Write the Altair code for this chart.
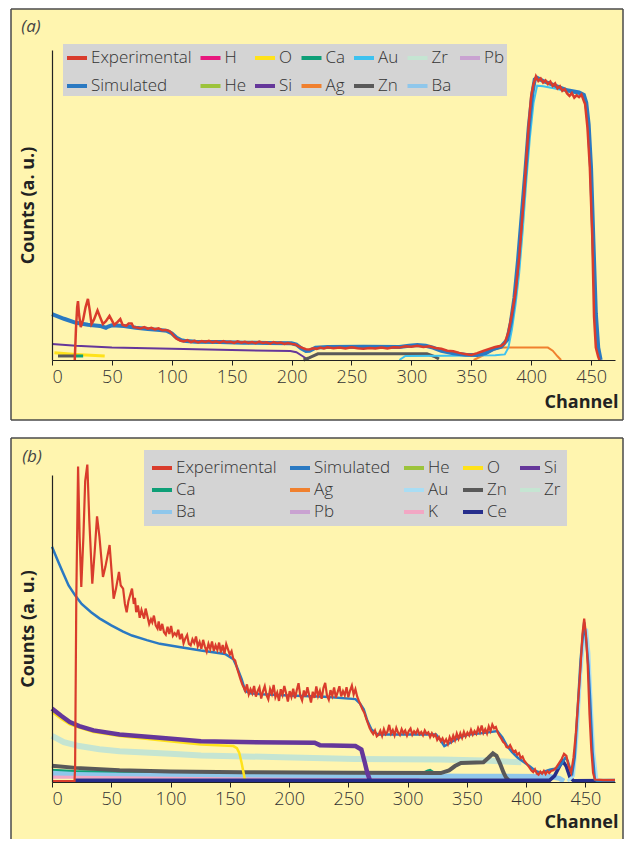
import altair as alt
import pandas as pd

# ---------------- panel (a) data ----------------
A_EXP_CH = [19, 20, 21, 21.7, 22.5, 24, 26, 28, 30, 31.5, 33, 35, 38, 40, 42.5, 45, 48, 50, 52, 54, 57, 59, 62, 64,
            66.5, 68, 71, 74, 77, 80, 83, 86, 89, 92, 95, 98, 100, 102, 104, 107, 110, 113, 116, 119, 122, 125, 128,
            131, 134, 137, 140, 143, 146, 149, 152, 155, 158, 161, 164, 167, 170, 173, 176, 179, 182, 185, 188, 191,
            194, 197, 200, 203, 206, 209, 212, 215, 218, 221, 224, 227, 230, 235, 240, 245, 250, 255, 260, 265, 270,
            275, 280, 285, 290, 295, 300, 305, 310, 315, 320, 325, 330, 335, 340, 345, 350, 355, 360, 365, 370, 375,
            378, 381, 384, 387, 390, 392, 394, 396, 398, 400, 402, 404, 406, 408, 410, 412, 414, 416, 418, 420, 422,
            424, 426, 428, 430, 432, 434, 436, 438, 440, 442, 444, 445, 447, 449, 451, 452.5, 454, 456, 457]
A_EXP_Y = [0, 10, 17, 19, 15, 10.6, 13, 17, 19.7, 16, 11.6, 13, 16, 14, 11.6, 12.5, 14.2, 12.8, 11.3, 12, 13.2, 11.3,
           11, 11.8, 11.8, 10.6, 10.5, 10.2, 10.6, 10.1, 10.4, 9.9, 10.2, 9.6, 9.7, 9.3, 8.6, 7.6, 6.9, 6.3, 6.0, 6.4,
           5.8, 6.2, 5.7, 6.1, 5.8, 6.2, 5.7, 6.0, 5.6, 6.1, 5.7, 5.9, 5.5, 6.0, 5.6, 5.9, 5.5, 5.8, 5.4, 5.9, 5.5,
           5.7, 5.3, 5.8, 5.4, 5.6, 5.2, 5.5, 5.2, 5.0, 4.4, 3.9, 3.5, 3.4, 3.8, 3.6, 4.0, 3.7, 4.1, 3.8, 4.0, 3.7,
           4.1, 3.8, 3.6, 3.9, 3.7, 4.0, 3.7, 4.1, 4.0, 4.4, 4.3, 4.6, 4.2, 4.4, 3.9, 3.6, 3.0, 2.8, 2.3, 1.9, 1.6,
           2.2, 2.9, 3.6, 4.2, 4.6, 5.5, 9, 15, 22, 33, 43, 53, 65, 76, 85, 89, 91.5, 90, 90.8, 89.5, 90.2, 89, 89.8,
           88.4, 89.2, 87.6, 88.3, 86.8, 87.4, 86, 85.2, 86.1, 84.6, 85.4, 84.8, 85.6, 83.5, 82.6, 75, 62, 40, 14, 4,
           1, 0]
A_SIM_CH = [0, 10, 20, 30, 40, 45, 47, 50, 60, 70, 80, 90, 96, 100, 104, 108, 112, 120, 140, 160, 180, 200, 204, 208,
            212, 215, 220, 230, 260, 290, 298, 305, 312, 318, 325, 335, 345, 355, 362, 368, 375, 380, 383, 386, 389,
            392, 395, 398, 401, 403, 405, 410, 420, 430, 440, 444, 446, 448, 450, 452, 454, 456, 458]
A_SIM_Y = [14.8, 13.3, 12, 11.4, 11, 10.4, 10.8, 11.2, 11, 10.4, 10, 9.7, 9.4, 8.6, 7.2, 6.4, 6.1, 5.9, 5.8, 5.6, 5.5,
           5.4, 5.0, 3.8, 2.9, 3.0, 4.0, 4.2, 4.3, 4.2, 4.6, 4.8, 4.6, 4.0, 3.0, 2.2, 1.7, 1.6, 2.2, 3.5, 4.3, 6.5,
           12, 20, 32, 46, 60, 75, 86, 90.5, 91, 90, 88.5, 87, 86.3, 85.5, 83, 76, 62, 38, 15, 4, 0]
A_SI_CH = [0, 20, 50, 100, 150, 199, 204, 209, 214]
A_SI_Y = [5.2, 4.6, 4.0, 3.6, 3.2, 2.9, 2.5, 1.3, 0]
A_O_CH = [2, 20, 44]
A_O_Y = [2.3, 1.8, 1.3]
A_ZN1_CH = [5, 19]
A_ZN1_Y = [1.3, 1.3]
A_ZN2_CH = [210, 215, 222, 313, 320, 323]
A_ZN2_Y = [0, 0.8, 2.0, 2.0, 1.0, 0.3]
A_CA_CH = [19, 26]
A_CA_Y = [1.3, 1.3]
A_AU_CH = [290, 295, 330, 370, 378, 381, 384, 387, 390, 393, 396, 399, 402, 405, 410, 420, 430, 440, 444, 447, 449,
           451, 453, 455, 457]
A_AU_Y = [0, 1.3, 1.4, 1.5, 1.8, 4, 10, 18, 28, 42, 58, 72, 83, 88.5, 88.3, 87.6, 86.7, 85.8, 85, 80, 68, 45, 20, 5, 0]
A_AG_CH = [352, 360, 368, 375, 414, 418, 422, 425]
A_AG_Y = [0, 1.5, 3.2, 4.0, 4.0, 3.0, 1.2, 0]

A_LEGEND = ["Experimental", "H", "O", "Ca", "Au", "Zr", "Pb",
            "Simulated", "He", "Si", "Ag", "Zn", "Ba"]

# ---------------- panel (b) data ----------------
B_EXP_CH1 = [0, 19, 19.5, 20.5, 22, 23.3, 24.7, 26.5, 28, 29.8, 31.5, 34, 36, 38, 40, 43, 45, 48.6, 50, 52, 54,
             56.5, 58]
B_EXP_Y1 = [0.3, 0.3, 5, 60, 102.8, 80, 63.5, 80, 98, 103.4, 85, 64.6, 75, 86.5, 80, 66.8, 70, 77.2, 70, 59.7, 63,
            68.4, 64]
B_EXP_CH2 = [60, 61.5, 63, 64.5, 66, 67.5, 69, 70, 71, 72.5, 74, 75.5, 77.7, 79, 80.5, 82, 83.5, 84.6, 86, 87.5,
             89, 90, 91.4, 93, 94.5, 96, 97.5, 99, 100.5, 102, 103.5, 105, 106.5, 108, 109.5, 111, 112.5, 114, 115.5,
             117, 118.5, 120, 121.5, 123, 124.5, 126, 127.5, 129, 130.5, 132, 133.5, 135, 136.5, 138, 139.5, 141,
             142.5, 144, 145.5, 147, 148.5, 150, 151.5, 153]
B_EXP_Y2 = [63, 58, 55.3, 59, 61, 63, 58, 60, 55.3, 57.5, 53.5, 56, 53.2, 56.5, 54, 51.5, 53, 52, 54.2, 51,
            50, 52.3, 49.3, 51.5, 48.8, 48, 50.6, 48.2, 50.8, 47.6, 48.5, 47.7, 49.6, 46.5, 48.3, 45.2, 46.8, 47.9, 45,
            44.5, 46.5, 45.3, 47.4, 44.2, 45.6, 43.4, 46.3, 44.1, 42.5, 45, 43.3, 45.8, 42.7, 44.5, 43, 45.4,
            42.2, 44.6, 41.8, 44.9, 43.2, 41.5, 42.6, 40]
B_EXP_CH3 = [154.5, 156, 157.5, 159, 160.5, 162, 163, 164.5, 166, 167.5, 169, 170.5, 172, 173.5, 175, 176.5, 178,
             179.5, 181, 182.5, 184, 185.5, 187, 188.5, 190, 191.5, 193, 194.5, 196, 197.5, 199, 200.5, 202, 203.5,
             205, 206.5, 208, 209.5, 211, 212.5, 214, 215.5, 217, 218.5, 220, 221.5, 223, 224.5, 226, 227.5, 229,
             230.5, 232, 233.5, 235, 236.5, 238, 239.5, 241, 242.5, 244, 245.5, 247, 248.5, 250, 251.5, 253, 254.5,
             256, 257.5]
B_EXP_Y3 = [39.6, 37.2, 35.4, 33.5, 31.8, 30.6, 29.7, 31.8, 28.6, 30.2, 28.9, 31.3, 27.8, 29.6, 30.8, 27.2, 29.5,
            31.2, 28.3, 26.9, 30.3, 28.7, 31.6, 27.6, 29.1, 26.4, 30.2, 28.4, 31.3, 28.9, 26.2, 29.6, 27.7, 30.4,
            27.3, 29.9, 32.2, 28.1, 26.6, 29.8, 27.9, 30.9, 28.3, 25.9, 29.4, 27.4, 31.1, 28, 29.7, 27.1, 30.6,
            32.3, 28.2, 26.8, 29.9, 28.1, 30.8, 27.5, 29.3, 31.2, 27.9, 29.6, 28.2, 30.9, 27.6, 29.8, 31.4, 28.5,
            30.2, 27.8]
B_EXP_CH4 = [259, 260.5, 262, 263.5, 265, 266.5, 268, 269.5, 271, 272.5, 274, 275.5, 277, 278.5, 280, 281.5, 283,
             284.5, 286, 287.5, 289, 290.5, 292, 293.5, 295, 296.5, 298, 299.5, 301, 302.5, 304, 305.5, 307, 308.5,
             310, 311.5, 313, 314.5, 316, 317.5, 319, 320.5, 322, 323.5, 325, 326.5, 328, 329.5, 331, 332.5, 334,
             335.5, 337, 338.5, 340, 341.5, 343, 344.5, 346, 347.5, 349, 350.5, 352, 353.5, 355, 356.5, 358, 359.5,
             361, 362.5, 364, 365.5, 367, 368.5, 370, 371.5, 373, 374.5, 376, 377.5, 379, 380.5, 382, 383.5, 385,
             386.5, 388, 389.5, 391, 392.5, 394, 395.5, 397, 398.5, 400, 401.5, 403, 404.5, 406, 407.5, 409, 410.5,
             412, 413.5, 415, 416.5, 418, 419.5, 421]
B_EXP_Y4 = [26.3, 25, 23.6, 22.6, 20.8, 19.2, 17.6, 16.5, 15.6, 16.8, 14.9, 15.4, 16.7, 15, 17.2, 15.6, 16.4,
            18.6, 15.8, 16.9, 15.2, 17.6, 16.1, 15.3, 17.2, 15.9, 16.8, 15.1, 16.6, 17.4, 15.4, 16.5, 15.8, 17,
            15.6, 16.3, 15.2, 16.8, 15.7, 16.2, 14.6, 15.9, 14.8, 15.5, 13.7, 14.6, 13.3, 14.2, 12.8, 13.9, 12.4,
            14.6, 13.2, 15.1, 13.6, 15.8, 14.1, 15.9, 14.4, 16.3, 14.8, 16.1, 15.2, 17, 15.4, 16.6, 15.7, 17.6,
            16.2, 18.4, 16, 17.2, 15.8, 18.1, 16.6, 18.7, 17.5, 17.9, 16.2, 15.1, 14.2, 13.1, 12.6, 11.4, 11.2,
            12, 10.8, 9.8, 10.2, 8.9, 9.4, 7.8, 8.3, 6.9, 6.2, 5.4, 4.6, 3.7, 3.2, 4.1, 2.8, 2.4,
            3.4, 2.7, 3.6, 2.6, 3.5, 2.9, 3.6]
B_EXP_CH5 = [423, 425, 427, 430, 432, 434, 436, 438, 440, 442, 444, 446, 447.5, 449, 450.5, 452, 453.5, 455, 456.5,
             458, 465, 475]
B_EXP_Y5 = [3.8, 4.5, 5.7, 7.5, 9.2, 8.5, 5, 3, 8, 16, 27, 38, 48, 53.2, 48, 38, 22, 10.6, 3, 0.8, 0.6, 0.6]
B_EXP_CH = B_EXP_CH1 + B_EXP_CH2 + B_EXP_CH3 + B_EXP_CH4 + B_EXP_CH5
B_EXP_Y = B_EXP_Y1 + B_EXP_Y2 + B_EXP_Y3 + B_EXP_Y4 + B_EXP_Y5

B_SIM_CH = [0, 5, 9, 14, 19.5, 25, 33, 40, 50, 60, 67.5, 80, 91, 108.6, 125.7, 146, 153, 156, 160, 163, 167, 177,
            200, 230, 256, 260, 263, 266, 269.5, 274.7, 300, 324, 328, 331, 334, 338, 345, 352, 365, 375.7, 380, 384,
            388, 393, 398, 403, 408, 413, 417, 420, 424, 427, 430, 433, 435, 437, 439, 441, 444, 446, 449, 451,
            452.5, 454, 456, 458, 460, 475]
B_SIM_Y = [76.6, 72, 68.4, 64, 60.8, 58, 55.3, 53.3, 51, 49, 47.7, 46.2, 45, 43.9, 42.8, 41.7, 40, 37.5, 33.5, 29.7,
           28.9, 28.6, 28.2, 27.8, 27, 25.5, 23.7, 20, 17.1, 15.5, 15.5, 15.5, 13.5, 11.7, 12.3, 13.3, 14.7, 15.5, 16,
           16.6, 14.5, 11.7, 9.8, 7.9, 6.5, 5.1, 3.6, 2.9, 3.6, 4, 4.3, 4.6, 6, 7.9, 7, 4.5, 3, 8, 27, 40, 52, 45,
           38, 27, 10, 0.8, 0.3, 0.3]
B_SI_CH = [0, 8, 15, 23, 35, 57, 91, 125.7, 160, 221.6, 226, 256, 261, 264, 266, 268]
B_SI_Y = [23.9, 21.5, 19.5, 18.2, 16.8, 15.5, 14.4, 13.3, 13, 12.8, 12, 11.7, 10.6, 6.2, 3, 0.8]
B_O_CH = [0, 8, 15, 23, 35, 57, 91, 125.7, 153, 156, 158, 160, 162.7]
B_O_Y = [22.8, 20.5, 18.8, 17.7, 16.3, 15, 13.6, 12.2, 11.7, 11, 9.5, 6.2, 0.8]
B_ZR_CH = [0, 10, 23, 40, 57, 100, 125.7, 194, 256, 328, 365, 396]
B_ZR_Y = [15, 13, 11.7, 10.7, 10, 9.2, 8.6, 8.1, 7.5, 7.3, 7, 6.4]
B_ZN_CH = [0, 20, 57, 100, 160, 250, 328, 335, 340, 345, 364, 368, 372, 375, 378, 381, 383, 386]
B_ZN_Y = [5.3, 4.6, 3.8, 3.4, 3.2, 3.0, 2.9, 3.8, 5.2, 6.2, 6.4, 7.8, 9.3, 8.5, 6, 3, 1.5, 0.2]
B_CA_CH = [0, 20, 60, 150, 250, 314, 317, 319, 321, 323]
B_CA_Y = [4, 3.6, 3.3, 3.2, 3.2, 3.2, 3.8, 4, 3.5, 3]
B_BA_CH = [0, 100, 200, 297, 350, 420, 428, 432]
B_BA_Y = [2.9, 2.5, 2.2, 2, 1.9, 1.8, 1.2, 0.3]
B_K_CH = [0, 100, 200, 310]
B_K_Y = [2.0, 2.0, 1.9, 1.9]
B_CE_CH = [19, 200, 420, 424, 428, 431, 434, 437, 440, 475]
B_CE_Y = [0.6, 0.6, 0.6, 2, 5, 6.8, 5, 1.5, 0.4, 0.5]
B_AU_CH = [435, 440, 443, 446, 449, 451, 453, 455, 457, 459.6, 462]
B_AU_Y = [0.3, 2, 15, 35, 48, 49.9, 42, 25, 10, 1, 0.3]

B_LEGEND = ["Experimental", "Simulated", "He", "O", "Si",
            "Ca", "Ag", "Au", "Zn", "Zr",
            "Ba", "Pb", "K", "Ce"]

X_TICKS = [0, 50, 100, 150, 200, 250, 300, 350, 400, 450]

COLORS = {
    "Experimental": "#D93C2C", "Simulated": "#2A79C2", "H": "#E8177D", "He": "#9CC33B",
    "O": "#FFE21A", "Si": "#65379A", "Ca": "#0E9F77", "Ag": "#F0802E", "Au": "#3DC2EF",
    "Zn": "#595959", "Zr": "#C5E5D2", "Ba": "#8FC7EB", "Pb": "#C9A2D1", "K": "#F2A7C4",
    "Ce": "#262E8C",
}
YELLOW = "#FFF5AF"
FRAME = "#4a4a4a"
FONT = "Open Sans"


def build(series):
    rows = []
    for name, seg, chs, ys, w in series:
        for c, v in zip(chs, ys):
            rows.append({"series": name, "seg": seg, "channel": c, "counts": v})
    return pd.DataFrame(rows)


def panel(tag, series, legend_order, xmax, height, frame, bottom_line, label_xy,
          leg_xy, leg_cols, leg_rowpad, leg_colpad, leg_pad, xtitle_y, au_color):
    df = build(series)
    colors = [au_color if s == "Au" else COLORS[s] for s in legend_order]
    color_scale = alt.Scale(domain=legend_order, range=colors)
    legend = alt.Legend(
        title=None, orient="none", legendX=leg_xy[0], legendY=leg_xy[1], columns=leg_cols,
        direction="horizontal",
        symbolType="stroke", symbolSize=400, symbolStrokeWidth=4, labelFontSize=17,
        labelFont=FONT, labelFontWeight=300, labelColor="#333333", fillColor="#D4D4D4", padding=leg_pad,
        rowPadding=leg_rowpad, columnPadding=leg_colpad, labelOffset=2, gridAlign="each",
    )
    xenc = alt.X("channel:Q", scale=alt.Scale(domain=[0, xmax], nice=False, zero=False),
                 axis=alt.Axis(values=X_TICKS, grid=False, domainColor="#222222", domainWidth=1.2,
                               tickColor="#222222", tickSize=5, labelFontSize=18, labelFont=FONT,
                               labelFontWeight=300, labelColor="#333333", labelPadding=3,
                               title="Channel", titleFont=FONT,
                               titleFontSize=18, titleFontWeight="bold", titleColor="#222222",
                               titleAlign="right", titleX=566, titleY=xtitle_y, titleBaseline="middle",
                               zindex=1))
    yenc = alt.Y("counts:Q", scale=alt.Scale(domain=[0, 100], nice=False),
                 axis=alt.Axis(labels=False, ticks=False, grid=False, domainColor="#222222",
                               domainWidth=1.2, title="Counts (a. u.)", titleFont=FONT, titleFontSize=18,
                               titleFontWeight="bold", titleColor="#222222", titleX=-24,
                               titleBaseline="middle", titleAngle=-90, zindex=1))
    color = alt.Color("series:N", scale=color_scale, legend=legend)

    one = pd.DataFrame({"k": [0]})
    x0, x1, y0, y1 = frame
    box = alt.Chart(one).mark_rect(fill=YELLOW, strokeWidth=0).encode(
        x=alt.value(x0), x2=alt.value(x1), y=alt.value(y0), y2=alt.value(y1))
    rule = dict(color=FRAME, strokeWidth=1.5)
    top = alt.Chart(one).mark_rule(**rule).encode(x=alt.value(x0), x2=alt.value(x1), y=alt.value(y0))
    left = alt.Chart(one).mark_rule(**rule).encode(x=alt.value(x0), y=alt.value(y0), y2=alt.value(y1))
    right = alt.Chart(one).mark_rule(**rule).encode(x=alt.value(x1), y=alt.value(y0), y2=alt.value(y1))
    layers = [box, top, left, right]
    if bottom_line:
        layers.append(alt.Chart(one).mark_rule(**rule).encode(
            x=alt.value(x0), x2=alt.value(x1), y=alt.value(y1)))
    layers.append(alt.Chart(one).mark_text(fontStyle="italic", fontSize=17, font=FONT, color="#444444").encode(
        x=alt.value(label_xy[0]), y=alt.value(label_xy[1]), text=alt.value(tag)))

    for name, seg, chs, ys, w in series:
        layers.append(
            alt.Chart(df).transform_filter(alt.datum.seg == seg).mark_line(strokeWidth=w).encode(
                x=xenc, y=yenc, color=color))
    return alt.layer(*layers).properties(width=563, height=height)


# drawing order: first listed is drawn first (underneath)
A_SERIES = [
    ("Si", "si", A_SI_CH, A_SI_Y, 2),
    ("O", "o", A_O_CH, A_O_Y, 3),
    ("Zn", "zn1", A_ZN1_CH, A_ZN1_Y, 3),
    ("Zn", "zn2", A_ZN2_CH, A_ZN2_Y, 3),
    ("Ca", "ca", A_CA_CH, A_CA_Y, 3),
    ("Ag", "ag", A_AG_CH, A_AG_Y, 2),
    ("Au", "au", A_AU_CH, A_AU_Y, 2),
    ("Simulated", "s", A_SIM_CH, A_SIM_Y, 4),
    ("Experimental", "e", A_EXP_CH, A_EXP_Y, 2.5),
]
B_SERIES = [
    ("Zr", "zr", B_ZR_CH, B_ZR_Y, 6),
    ("K", "k", B_K_CH, B_K_Y, 6),
    ("Ba", "ba", B_BA_CH, B_BA_Y, 5),
    ("Ca", "ca", B_CA_CH, B_CA_Y, 2),
    ("Zn", "zn", B_ZN_CH, B_ZN_Y, 4),
    ("O", "o", B_O_CH, B_O_Y, 2.5),
    ("Si", "si", B_SI_CH, B_SI_Y, 4.5),
    ("Ce", "ce", B_CE_CH, B_CE_Y, 3.5),
    ("Au", "au", B_AU_CH, B_AU_Y, 3),
    ("Simulated", "s", B_SIM_CH, B_SIM_Y, 2.5),
    ("Experimental", "e", B_EXP_CH, B_EXP_Y, 2.2),
]

pa = panel("(a)", A_SERIES, A_LEGEND, 470, 310, (-41, 571, -41, 370), True, (-21, -23),
           (11, -6), 7, 8, 0.5, 2, 42, "#3DC2EF")
pb = panel("(b)", B_SERIES, B_LEGEND, 475, 307, (-41, 571, -37, 364), False, (-20, -18),
           (92, -25), 5, 2, 5, 6, 40, "#A9DDF4")

chart = alt.vconcat(pa, pb, spacing=16).resolve_scale(
    color="independent", x="independent", y="independent"
).configure(padding={"left": 2, "top": 0, "right": 0, "bottom": 0}, background="white",
            font=FONT).configure_view(stroke=None)

chart.save("out.html", embed_options={"renderer": "svg", "actions": False})
